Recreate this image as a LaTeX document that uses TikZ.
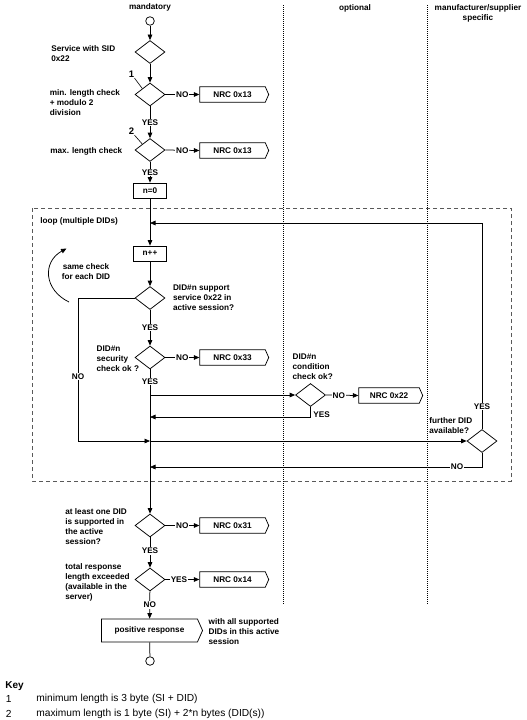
\documentclass[tikz,border=0pt]{standalone}
\usepackage{fontspec}
\setmainfont{Liberation Sans}
\usetikzlibrary{arrows.meta,shapes.geometric,shapes.symbols,calc}
\begin{document}
\begin{tikzpicture}[x=1pt,y=-1pt,
  line width=0.75pt,
  dfont/.style={font=\bfseries\fontsize{8.2}{10}\selectfont},
  txt/.style={dfont, inner sep=0pt, align=left, anchor=north west},
  decision/.style={diamond, draw, inner sep=0pt, minimum width=30pt, minimum height=23pt},
  procbox/.style={rectangle, draw, dfont, inner sep=0pt, minimum width=33pt, minimum height=15pt},
  nrcbox/.style={signal, signal to=east, signal pointer angle=132, draw, dfont, inner sep=0pt, minimum width=69pt, minimum height=15.5pt},
  termcircle/.style={circle, draw, inner sep=0pt, minimum size=8.6pt},
  arr/.style={-{Triangle[length=5.5pt,width=4.6pt]}},
  lbl/.style={dfont, fill=white, inner sep=0.8pt},
  colsep/.style={line width=1pt, dash pattern=on 1pt off 1pt},
  loopbox/.style={draw=black!65, dash pattern=on 4pt off 3pt, line width=0.8pt},
  keyfont/.style={font=\fontsize{10.2}{12}\selectfont, inner sep=0pt, anchor=west},
  numlbl/.style={font=\bfseries\fontsize{9.5}{10}\selectfont, inner sep=0pt},
]
\useasboundingbox (0,0) rectangle (527,720);

% column headers and separators
\node[dfont] (hm) at (150,7) {mandatory};
\node[dfont] (ho) at (355,8) {optional};
\node[dfont, align=center, anchor=north, inner sep=0pt] (hs) at (478,4.5) {manufacturer/supplier\\specific};
\draw[colsep] (283,5) -- (283,605);
\draw[colsep] (427,5) -- (427,605);

% loop frame
\draw[loopbox] (32,208) rectangle (511,481);
\node[txt] (tloop) at (40,217) {loop (multiple DIDs)};

% nodes
\node[termcircle] (s) at (150,21) {};
\node[decision] (d1) at (150,52) {};
\node[decision] (d2) at (150,94.5) {};
\node[decision] (d3) at (150,150) {};
\node[procbox] (n0) at (150,190.5) {n=0};
\node[procbox] (npp) at (150,253.5) {n++};
\node[decision] (d4) at (150,298) {};
\node[decision] (d5) at (150,357.5) {};
\node[decision] (d6) at (310.5,395) {};
\node[decision] (d7) at (482,441) {};
\node[decision] (d8) at (150,525.5) {};
\node[decision] (d9) at (150,579.5) {};
\node[nrcbox] (n13a) at (232.5,94.5) {NRC 0x13};
\node[nrcbox] (n13b) at (232.5,150.5) {NRC 0x13};
\node[nrcbox] (n33) at (232.5,357.5) {NRC 0x33};
\node[nrcbox, minimum width=64pt] (n22) at (389,395.5) {NRC 0x22};
\node[nrcbox] (n31) at (232.5,525.5) {NRC 0x31};
\node[nrcbox] (n14) at (232.5,579.5) {NRC 0x14};
\node[nrcbox, minimum width=101pt, minimum height=23pt] (pos) at (149.5,630.5) {positive response};
\node[termcircle] (e) at (150,661) {};

% texts
\node[txt] (t1) at (51,45) {Service with SID\\0x22};
\node[txt] (t2) at (49.5,89.5) {min. length check\\+ modulo 2\\division};
\node[txt] (t3) at (50,147) {max. length check};
\node[txt, align=center, anchor=north] (tsame) at (86,263) {same check\\for each DID};
\node[txt] (t4) at (172.7,284.7) {DID\#n support\\service 0x22 in\\active session?};
\node[txt] (t5) at (96.3,345.7) {DID\#n\\security\\check ok ?};
\node[txt] (t6) at (292.3,353) {DID\#n\\condition\\check ok?};
\node[txt] (t7) at (429,417) {further DID\\available?};
\node[txt] (t8) at (65,508) {at least one DID\\is supported in\\the active\\session?};
\node[txt] (t9) at (65,563) {total response\\length exceeded\\(available in the\\server)};
\node[txt] (tpos) at (208.3,618) {with all supported\\DIDs in this active\\session};

% numbered markers
\node[numlbl] (m1) at (131.5,74.5) {1};
\node[numlbl] (m2) at (131.5,131.5) {2};
\draw[line width=0.6pt] (m1.south east) -- ($(d2.west)!0.5!(d2.north)$);
\draw[line width=0.6pt] (m2.south east) -- ($(d3.west)!0.5!(d3.north)$);

% junction coordinates on the main line
\coordinate (j0) at (150,223);
\coordinate (j1) at (150,395);
\coordinate (j2) at (150,417);
\coordinate (j3) at (150,441);
\coordinate (j4) at (150,467);
\coordinate (c4) at (78,441);

% connectors
\draw[arr] (s) -- (d1);
\draw[arr] (d1) -- (d2);
\draw[arr] (d2) -- node[lbl]{YES} (d3);
\draw[arr] (d2.east) -- node[lbl]{NO} (n13a.west);
\draw[arr] (d3.east) -- node[lbl]{NO} (n13b.west);
\draw[arr] (d3) -- node[lbl]{YES} (n0);
\draw[arr] (n0) -- (npp);
\draw[arr] (npp) -- (d4);
\draw[arr] (d4) -- node[lbl]{YES} (d5);
\draw[arr] (d5.east) -- node[lbl]{NO} (n33.west);
\draw[arr] (d5.south) -- node[lbl, pos=0.083]{YES} (d8.north);
\draw[arr] (j1) -- (d6.west);
\draw[arr] (d6.east) -- node[lbl, pos=0.4]{NO} (n22.west);
\draw[arr] (d6.south) -- (d6.south |- j2) -- (j2);
\node[dfont, anchor=west, inner sep=0pt] (y6) at (313,415) {YES};
\draw[arr] (d4.west) -- (d4.west -| c4) -- node[lbl, pos=0.55]{NO} (c4) -- (j3);
\draw[arr] (j3) -- (d7.west);
\draw[arr] (d7.north) -- node[lbl, pos=0.109]{YES} (d7.north |- j0) -- (j0);
\draw[arr] (d7.south) -- (d7.south |- j4) -- node[lbl, pos=0.075]{NO} (j4);
\draw[arr] (d8.east) -- node[lbl]{NO} (n31.west);
\draw[arr] (d8) -- node[lbl, pos=0.45]{YES} (d9);
\draw[arr] (d9.east) -- node[lbl, pos=0.4]{YES} (n14.west);
\draw[arr] (d9) -- node[lbl]{NO} (pos);
\draw (pos) -- (e);

% curved arrow
\coordinate (ca) at (69,302);
\coordinate (cb) at (66.5,248.5);
\draw[arr] (ca) .. controls (44,290) and (42,262) .. (cb);

% key
\node[font=\bfseries\fontsize{10}{12}\selectfont, anchor=west, inner sep=0pt] (key) at (5,686) {Key};
\node[keyfont] (k1n) at (5.5,699) {1};
\node[keyfont] (k1t) at (36,699) {minimum length is 3 byte (SI + DID)};
\node[keyfont] (k2n) at (5.5,714) {2};
\node[keyfont] (k2t) at (36,714) {maximum length is 1 byte (SI) + 2*n bytes (DID(s))};
\end{tikzpicture}
\end{document}
